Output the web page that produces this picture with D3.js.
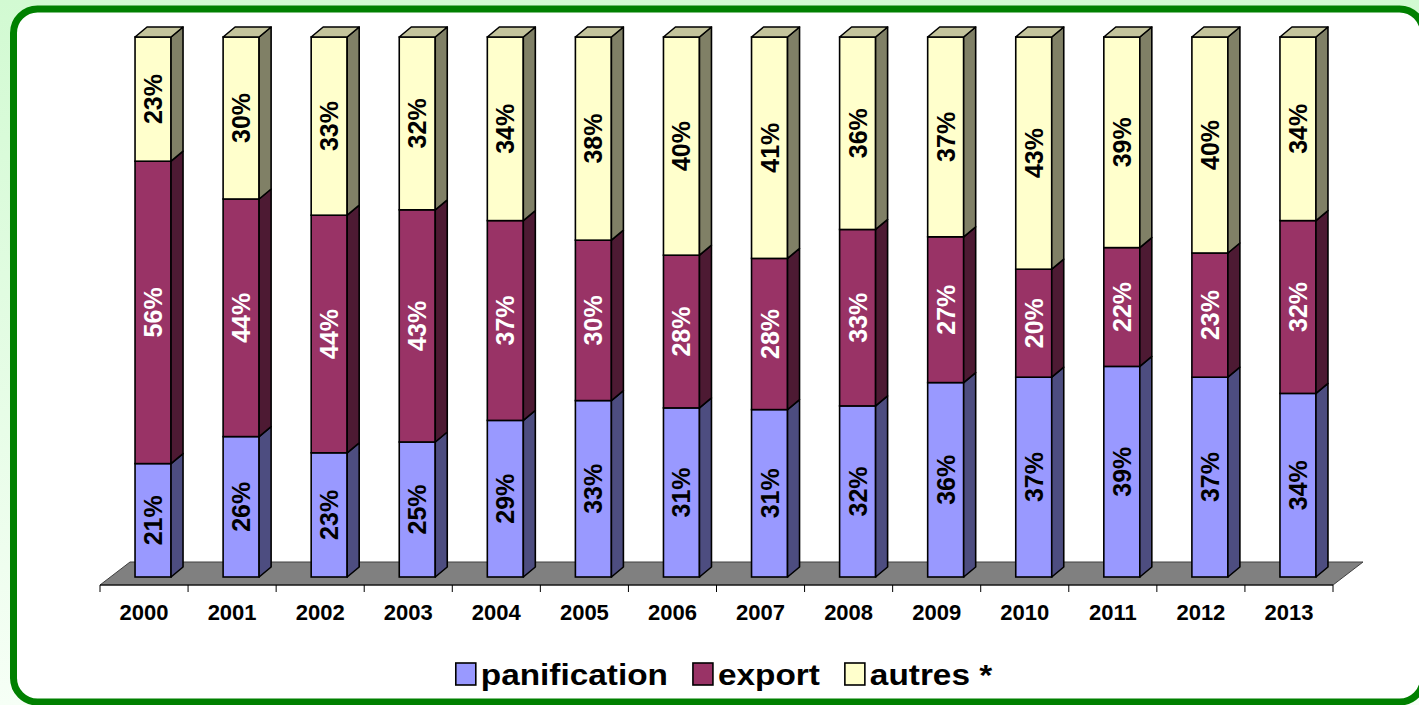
<!DOCTYPE html>
<html>
<head>
<meta charset="utf-8">
<script src="https://cdn.jsdelivr.net/npm/d3@7"></script>
<style>
  body { margin: 0; background: #fff; }
  svg { display: block; font-family: "Liberation Sans", Arial, sans-serif; }
</style>
</head>
<body>
<div id="chart"></div>
<script>
const years = ["2000", "2001", "2002", "2003", "2004", "2005", "2006", "2007", "2008", "2009", "2010", "2011", "2012", "2013"];
const panification = [21, 26, 23, 25, 29, 33, 31, 31, 32, 36, 37, 39, 37, 34];
const exportVals = [56, 44, 44, 43, 37, 30, 28, 28, 33, 27, 20, 22, 23, 32];
const autres = [23, 30, 33, 32, 34, 38, 40, 41, 36, 37, 43, 39, 40, 34];

const seriesKeys = ["panification", "export", "autres"];
const seriesNames = ["panification", "export", "autres *"];
const fronts = ["#9999FF", "#993366", "#FFFFCC"];
const sides = ["#4D4D80", "#4D1A33", "#808066"];
const labelColors = ["#000", "#fff", "#000"];
const topColor = "#C4C49C";

const width = 1419, height = 705;

const rows = years.map((y, i) => ({
  year: y,
  panification: panification[i],
  export: exportVals[i],
  autres: autres[i]
}));

const stacked = d3.stack()
  .keys(seriesKeys)
  .offset(d3.stackOffsetExpand)(rows);

const svg = d3.select("#chart").append("svg")
  .attr("width", width)
  .attr("height", height);

// background + green frame
const defs = svg.append("defs");
const grad = defs.append("linearGradient")
  .attr("id", "bg")
  .attr("x1", 0).attr("y1", 0).attr("x2", 0).attr("y2", 1);
grad.append("stop").attr("offset", "0%").attr("stop-color", "#d2fad2");
grad.append("stop").attr("offset", "100%").attr("stop-color", "#f6fff6");

svg.append("rect")
  .attr("width", width).attr("height", height)
  .attr("fill", "url(#bg)");

svg.append("rect")
  .attr("x", 13.5).attr("y", 9)
  .attr("width", 1410).attr("height", 693)
  .attr("rx", 24).attr("ry", 24)
  .attr("fill", "#fff")
  .attr("stroke", "#008000")
  .attr("stroke-width", 7);

// 3d geometry
const floorFront = 585;
const floorDepth = { dx: 30, dy: -23 };
const barOff = { dx: 9, dy: -8 };
const barDepth = { dx: 12, dy: -10 };

const x = d3.scaleBand()
  .domain(years)
  .range([100, 1333]);

const y = d3.scaleLinear()
  .domain([0, 1])
  .range([floorFront + barOff.dy, 37]);

const barW = 36;

// floor
const fl = x.range()[0], fr = x.range()[1];
svg.append("polygon")
  .attr("points", [
    [fl, floorFront], [fr, floorFront],
    [fr + floorDepth.dx, floorFront + floorDepth.dy],
    [fl + floorDepth.dx, floorFront + floorDepth.dy]
  ].map(p => p.join(",")).join(" "))
  .attr("fill", "#808080")
  .attr("stroke", "#404040")
  .attr("stroke-width", 1);

// axis
const axisG = svg.append("g")
  .attr("transform", `translate(0,${floorFront})`);

axisG.append("line")
  .attr("x1", fl).attr("x2", fr)
  .attr("stroke", "#000").attr("stroke-width", 1);

const bounds = years.map(d => x(d)).concat([fr]);
axisG.selectAll("line.tick")
  .data(bounds)
  .enter()
  .append("line")
  .attr("class", "tick")
  .attr("x1", d => d).attr("x2", d => d)
  .attr("y1", 0).attr("y2", 7)
  .attr("stroke", "#000");

axisG.selectAll("text.year")
  .data(years)
  .enter()
  .append("text")
  .attr("class", "year")
  .attr("x", d => x(d) + x.bandwidth() / 2)
  .attr("y", 35)
  .attr("text-anchor", "middle")
  .style("font-size", "22px")
  .style("font-weight", "bold")
  .text(d => d);

// bars
const barsG = svg.append("g");

function pts(arr) {
  return arr.map(p => p.join(",")).join(" ");
}

years.forEach((yr, i) => {
  const x0 = x(yr) + (x.bandwidth() - barW) / 2 + barOff.dx;
  const x1 = x0 + barW;
  const g = barsG.append("g");

  stacked.forEach((s, k) => {
    const d = s[i];
    const yTop = y(d[1]), yBot = y(d[0]);

    g.append("rect")
      .attr("x", x0).attr("y", yTop)
      .attr("width", barW).attr("height", yBot - yTop)
      .attr("fill", fronts[k])
      .attr("stroke", "#000")
      .attr("stroke-width", 1.6);

    g.append("polygon")
      .attr("points", pts([
        [x1, yBot], [x1, yTop],
        [x1 + barDepth.dx, yTop + barDepth.dy],
        [x1 + barDepth.dx, yBot + barDepth.dy]
      ]))
      .attr("fill", sides[k])
      .attr("stroke", "#000")
      .attr("stroke-width", 1.6)
      .attr("stroke-linejoin", "round");

    if (k === stacked.length - 1) {
      g.append("polygon")
        .attr("points", pts([
          [x0, yTop], [x1, yTop],
          [x1 + barDepth.dx, yTop + barDepth.dy],
          [x0 + barDepth.dx, yTop + barDepth.dy]
        ]))
        .attr("fill", topColor)
        .attr("stroke", "#000")
        .attr("stroke-width", 1.6)
        .attr("stroke-linejoin", "round");
    }

    const val = rows[i][seriesKeys[k]];
    const cx = (x0 + x1) / 2, cy = (yTop + yBot) / 2;
    g.append("text")
      .attr("transform", `translate(${cx},${cy}) rotate(-90)`)
      .attr("text-anchor", "middle")
      .attr("dy", "0.36em")
      .attr("fill", labelColors[k])
      .style("font-size", "25px")
      .style("font-weight", "bold")
      .text(val + "%");
  });
});

// legend
const legend = svg.append("g");
const items = legend.selectAll("g.item")
  .data(seriesNames)
  .enter()
  .append("g")
  .attr("class", "item");

items.append("rect")
  .attr("width", 20).attr("height", 22)
  .attr("y", -12)
  .attr("fill", (d, i) => fronts[i])
  .attr("stroke", "#000")
  .attr("stroke-width", 1.6);

const stretch = 1.15;
items.append("text")
  .attr("transform", `translate(25,0) scale(${stretch},1)`)
  .attr("dy", "0.36em")
  .style("font-size", "29px")
  .style("font-weight", "bold")
  .text(d => d);

let lx = 0;
const offs = [];
items.each(function () {
  const w = 25 + stretch * d3.select(this).select("text").node().getComputedTextLength();
  offs.push(lx);
  lx += w + 25;
});
const totalW = lx - 25;
const startX = 724 - totalW / 2;
items.attr("transform", (d, i) => `translate(${startX + offs[i]},675)`);
</script>
</body>
</html>
